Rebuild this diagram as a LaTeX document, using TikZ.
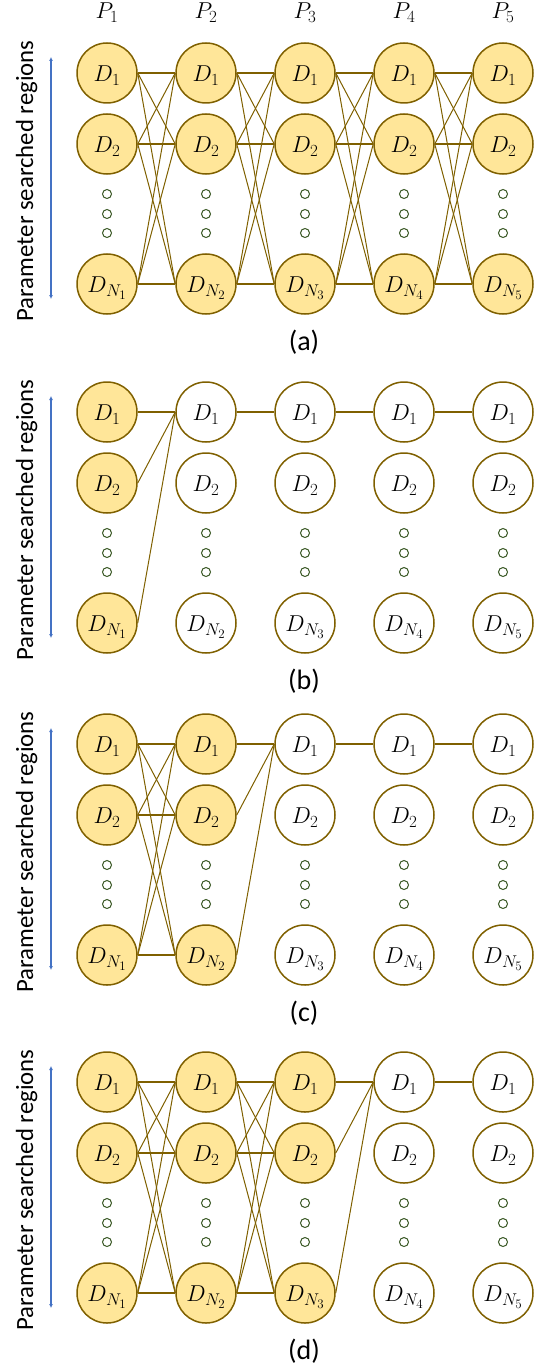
\RequirePackage{fix-cm}
\documentclass[tikz,border=0pt]{standalone}
\usepackage[no-math]{fontspec}
\setmainfont{Carlito}
\usetikzlibrary{arrows.meta}
\DeclareMathSizes{23}{23}{17}{13}
\definecolor{cbrown}{HTML}{7F6000}
\definecolor{cyellow}{HTML}{FFE699}
\definecolor{dgreen}{HTML}{385723}
\definecolor{ablue}{HTML}{4472C4}
\tikzset{
  basec/.style={circle, draw=cbrown, line width=1.5pt, minimum size=60pt, inner sep=0pt,
    text height=17.7pt, text depth=0pt, font=\fontsize{23}{27}\selectfont},
  fullc/.style={basec, fill=cyellow},
  emptyc/.style={basec, fill=white},
  dotc/.style={circle, draw=dgreen, line width=1pt, minimum size=9pt, inner sep=0pt},
  hline/.style={draw=cbrown, line width=2pt},
  dline/.style={draw=cbrown, line width=1pt},
  parrow/.style={draw=ablue, line width=1.5pt, {Latex[length=4pt,width=4pt]}-{Latex[length=4pt,width=4pt]}},
  sidetext/.style={rotate=90, anchor=base, font=\fontsize{24.75}{29}\selectfont},
  plabel/.style={anchor=base, font=\fontsize{28}{33}\selectfont},
  toplabel/.style={anchor=base, font=\fontsize{23}{27}\selectfont, inner sep=0pt}
}
\newcommand{\drawpanel}[4]{%
  % #1 name, #2 y of D1 row, #3 number of filled columns, #4 label
  \foreach \c/\x in {1/107,2/206,3/305,4/404,5/503} {
    \ifnum\c>#3\relax \tikzset{cur/.style={emptyc}}\else\tikzset{cur/.style={fullc}}\fi
    \node[cur] (#1-\c-1) at (\x, #2) {$D_1$};
    \node[cur] (#1-\c-2) at (\x, #2+71) {$D_2$};
    \node[cur] (#1-\c-3) at (\x, #2+211) {$D_{N_{\c}}$};
    \foreach \dy in {121,141,160} {
      \node[dotc] (#1-\c-d\dy) at (\x, #2+\dy) {};
    }
  }
  \foreach \c in {1,2,3,4} {
    \pgfmathtruncatemacro\n{\c+1}
    \ifnum\c<#3\relax
      \foreach \r in {1,2,3} {
        \foreach \s in {1,2,3} {
          \ifnum\r=\s\relax
            \draw[hline] (#1-\c-\r.east) -- (#1-\n-\s.west);
          \else
            \draw[dline] (#1-\c-\r.east) -- (#1-\n-\s.west);
          \fi
        }
      }
    \else
      \ifnum\c=#3\relax
        \draw[hline] (#1-\c-1.east) -- (#1-\n-1.west);
        \draw[dline] (#1-\c-2.east) -- (#1-\n-1.west);
        \draw[dline] (#1-\c-3.east) -- (#1-\n-1.west);
      \else
        \draw[hline] (#1-\c-1.east) -- (#1-\n-1.west);
      \fi
    \fi
  }
  \coordinate (#1-top) at (51, #2-16);
  \coordinate (#1-bot) at (51, #2+226);
  \draw[parrow] (#1-top) -- (#1-bot);
  \node[sidetext] (#1-side) at (33, #2+108) {Parameter searched regions};
  \node[plabel] (#1-label) at (304, #2+277) {#4};
}
\begin{document}
\begin{tikzpicture}[x=1pt, y=-1pt]
  \useasboundingbox (0,0) rectangle (537,1367);
  \foreach \c/\x in {1/107,2/206,3/305,4/404,5/503} {
    \node[toplabel] (P\c) at (\x, 19) {$P_{\c}$};
  }
  \drawpanel{a}{73}{5}{(a)}
  \drawpanel{b}{412}{1}{(b)}
  \drawpanel{c}{744}{2}{(c)}
  \drawpanel{d}{1082}{3}{(d)}
\end{tikzpicture}
\end{document}
